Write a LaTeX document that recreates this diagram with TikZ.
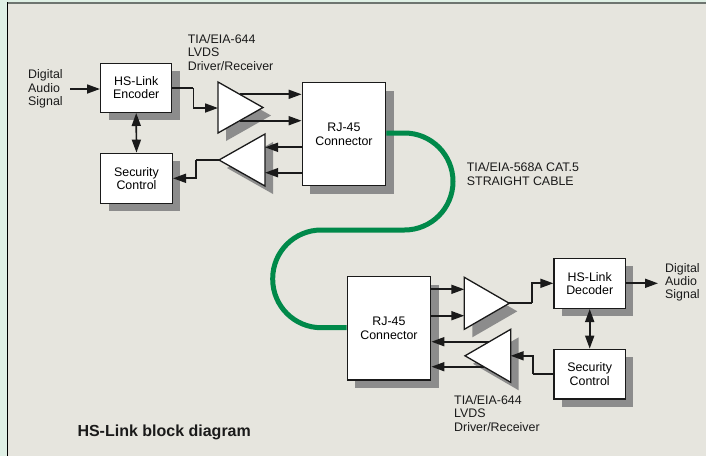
\documentclass[tikz,border=0pt]{standalone}
\usepackage{fontspec}
\setmainfont{Liberation Sans}
\usetikzlibrary{arrows.meta,shadows}
\definecolor{bgc}{HTML}{E6E5DE}
\definecolor{stripc}{HTML}{DFF0E5}
\definecolor{topc}{HTML}{6E7570}
\definecolor{shc}{HTML}{8C8C8C}
\definecolor{inkc}{HTML}{1A1A1A}
\definecolor{cablec}{HTML}{00894A}
\tikzset{
  blk/.style={draw=inkc, line width=1.4pt, fill=white, inner sep=0pt, align=center,
    general shadow={fill=shc, shadow xshift=8pt, shadow yshift=-8pt}},
  txt/.style={inner sep=0pt, align=left, text=inkc},
  arr/.style={draw=inkc, line width=1.7pt, -{Triangle[length=13pt,width=9pt]}},
  arrb/.style={draw=inkc, line width=1.7pt, {Triangle[length=13pt,width=9pt]}-{Triangle[length=13pt,width=9pt]}},
  ln/.style={draw=inkc, line width=1.7pt},
  tri/.style={draw=inkc, line width=1.3pt, fill=white, line join=miter},
  trish/.style={fill=shc},
  cable/.style={draw=cablec, line width=5pt, rounded corners=48.5pt}
}
\begin{document}
\begin{tikzpicture}[x=1pt, y=-1pt, font=\fontsize{12.4}{13.3}\selectfont]
\useasboundingbox (0,0) rectangle (706,456);
% frame
\fill[stripc] (0,0) rectangle (706,456);
\fill[bgc] (7,2) rectangle (706,456);
\draw[topc, line width=2pt] (7,3) -- (706,3);
\draw[black, line width=1.5pt] (7.5,2) -- (7.5,456);

% cable corner points
\coordinate (c1) at (453,133);
\coordinate (c2) at (453,230);
\coordinate (c3) at (272.7,230);
\coordinate (c4) at (272.7,327.7);

% blocks
\node[blk, minimum width=71pt, minimum height=49pt] (enc) at (136.2,87.8) {HS-Link\\Encoder};
\node[blk, minimum width=71.6pt, minimum height=50pt] (sec1) at (136.5,178.3) {Security\\Control};
\node[blk, minimum width=83.4pt, minimum height=103pt] (rj1) at (344,134.2) {RJ-45\\Connector};
\node[blk, minimum width=83.4pt, minimum height=103.3pt] (rj2) at (389,328.3) {RJ-45\\Connector};
\node[blk, minimum width=71.3pt, minimum height=50pt] (dec) at (589.7,283.3) {HS-Link\\Decoder};
\node[blk, minimum width=71.3pt, minimum height=49.7pt] (sec2) at (589.7,374.2) {Security\\Control};

% cable
\draw[cable] (rj1.east |- 0,133) -- (c1) -- (c2) -- (c3) -- (c4) -- (rj2.west |- 0,327.7);

% triangles: shadows
\fill[trish] (226,90) -- (226,141) -- (271,115.5) -- cycle;
\fill[trish] (273,142) -- (273,194) -- (227,168) -- cycle;
\fill[trish] (472.3,285.3) -- (472.3,337.3) -- (517.3,311.3) -- cycle;
\fill[trish] (518.7,337.3) -- (518.7,390.3) -- (473,363.8) -- cycle;
% triangles
\coordinate (t1in) at (218,108);
\coordinate (t1ap) at (263,107.5);
\coordinate (t2ap) at (219,160);
\coordinate (t3ap) at (509.3,303.3);
\coordinate (t4ap) at (465,355.8);
\draw[tri] (218,82) -- (218,133) -- (t1ap) -- cycle;
\draw[tri] (265,134) -- (265,186) -- (t2ap) -- cycle;
\draw[tri] (464.3,277.3) -- (464.3,329.3) -- (t3ap) -- cycle;
\draw[tri] (510.7,329.3) -- (510.7,382.3) -- (t4ap) -- cycle;

% labels
\node[txt, anchor=west] (din) at (28,89) {Digital\\Audio\\Signal};
\node[txt, anchor=west] (dout) at (665,282.3) {Digital\\Audio\\Signal};
\node[txt, anchor=west] (lbl1) at (187.7,52.5) {TIA/EIA-644\\LVDS\\Driver/Receiver};
\node[txt, anchor=west] (lbl2) at (454,413.5) {TIA/EIA-644\\LVDS\\Driver/Receiver};
\node[txt, anchor=west] (cbl) at (466.7,174) {TIA/EIA-568A CAT.5\\STRAIGHT CABLE};
\node[txt, anchor=base west, font=\fontsize{16}{18}\selectfont\bfseries] (title) at (77.3,436) {HS-Link block diagram};

% connectors upper
\coordinate (dinend) at (70,89);
\draw[arr] (dinend) -- (enc.west |- dinend);
\draw[ln] (enc.east) -- ++(21,0) coordinate (e1);
\draw[arr] (e1) |- (t1in);
\coordinate (t1a) at (239.7,94.3);
\coordinate (t1b) at (239.7,120.7);
\draw[arr] (t1a) -- (t1a -| rj1.west);
\draw[arr] (t1b) -- (t1b -| rj1.west);
\coordinate (t2a) at (265,147.3);
\coordinate (t2b) at (265,172.7);
\draw[arr] (t2a -| rj1.west) -- (t2a);
\draw[arr] (t2b -| rj1.west) -- (t2b);
\draw[ln] (t2ap) -- ++(-23,0) coordinate (s1);
\draw[arr] (s1) |- (sec1.east);
\draw[arrb] (enc.south) -- (sec1.north);

% connectors lower
\coordinate (t3a) at (464.3,289.3);
\coordinate (t3b) at (464.3,315.7);
\draw[arr] (t3a -| rj2.east) -- (t3a);
\draw[arr] (t3b -| rj2.east) -- (t3b);
\draw[ln] (t3ap) -- ++(22.4,0) coordinate (d1);
\draw[arr] (d1) |- (dec.west);
\coordinate (doutend) at (658,283.3);
\draw[arr] (dec.east) -- (doutend);
\draw[arrb] (dec.south) -- (sec2.north);
\coordinate (t4in) at (510.7,355.8);
\draw[ln] (sec2.west) -- ++(-20.7,0) coordinate (s2);
\draw[arr] (s2) |- (t4in);
\coordinate (t4a) at (489.3,341.7);
\coordinate (t4b) at (483.8,366.7);
\draw[arr] (t4a) -- (t4a -| rj2.east);
\draw[arr] (t4b) -- (t4b -| rj2.east);
\end{tikzpicture}
\end{document}
